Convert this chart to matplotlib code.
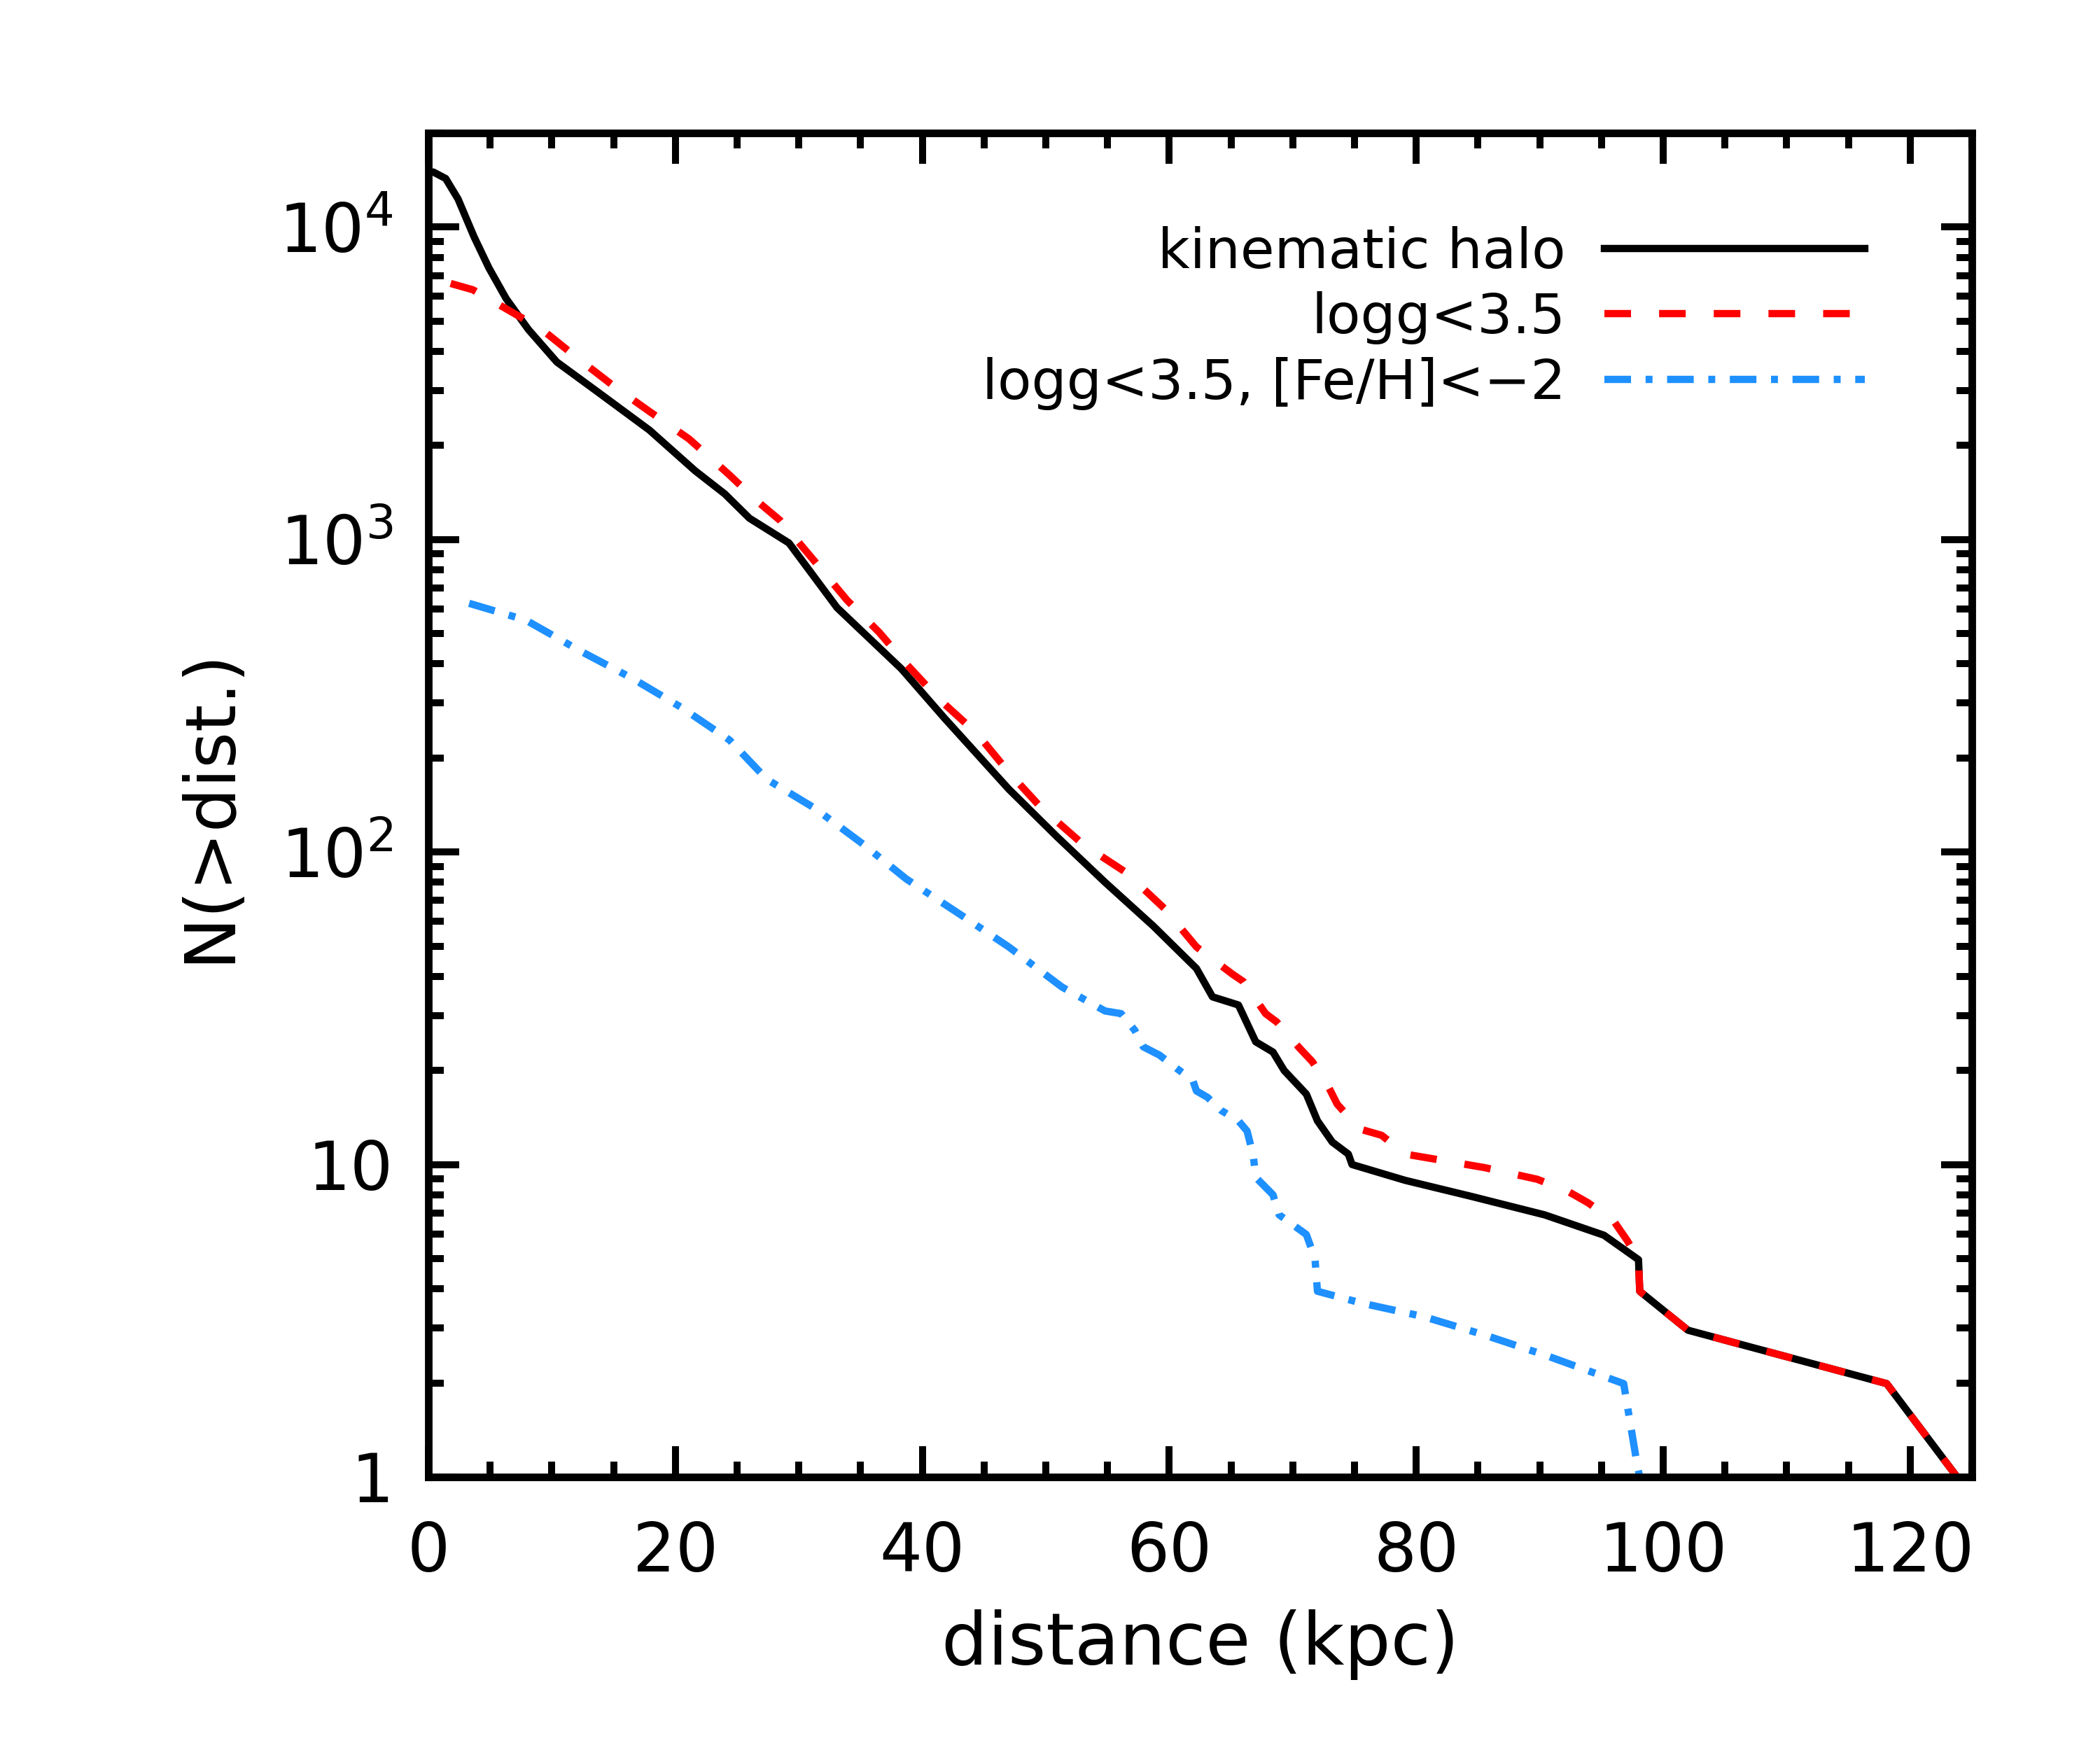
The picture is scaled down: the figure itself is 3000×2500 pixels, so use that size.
import matplotlib
matplotlib.use("Agg")
import matplotlib.pyplot as plt
from matplotlib.ticker import FixedLocator, FuncFormatter, MultipleLocator

plt.rcParams['mathtext.default'] = 'regular'

# cumulative counts N(>dist)
halo_d = [0.0, 0.4, 1.4, 2.4, 3.7, 4.9, 6.3, 8.1, 10.4, 13.8, 17.9, 21.6, 24.0,
          26.0, 29.2, 33.1, 38.3, 41.8, 47.0, 50.9, 54.8, 58.7, 62.2, 63.5, 65.6,
          67.0, 68.4, 69.3, 71.1, 72.0, 73.2, 74.5, 74.8, 79.1, 84.5, 90.4, 95.2,
          98.0, 98.1, 102.0, 118.1, 123.8]
halo_n = [15000, 15000, 14300, 12300, 9300, 7400, 5900, 4700, 3700, 2950, 2240,
          1660, 1400, 1170, 975, 605, 386, 268, 159, 112, 80, 58, 42.4, 34.4, 32.4,
          24.7, 22.9, 20.0, 16.8, 13.8, 11.8, 10.8, 10.0, 8.9, 7.9, 6.9, 5.94,
          4.96, 3.93, 2.95, 1.99, 1.0]

giant_d = [1.8, 3.6, 5.7, 9.2, 12.1, 15.0, 17.9, 21.1, 24.3, 26.6, 28.5, 31.3, 33.9,
           36.5, 38.7, 41.3, 44.4, 47.0, 49.6, 53.0, 56.5, 59.6, 62.2, 65.1, 66.0,
           67.8, 68.7, 70.5, 71.6, 72.9, 73.6, 75.4, 77.2, 79.1, 85.5, 89.8, 92.3,
           93.9, 96.0, 97.1, 98.0, 98.1, 102.0, 118.1, 123.8]
giant_n = [6600, 6300, 5650, 4700, 3800, 3100, 2570, 2100, 1620, 1330, 1150, 850,
           640, 505, 400, 310, 240, 180, 139, 106, 86, 66, 49.7, 40.7, 38.5, 30.4,
           28.6, 23.7, 21.3, 17.7, 15.6, 13.0, 12.4, 10.8, 9.78, 8.97, 8.2, 7.55,
           6.59, 5.7, 4.96, 3.93, 2.95, 1.99, 1.0]

mp_d = [3.3, 7.9, 12.3, 16.6, 20.5, 24.4, 27.4, 31.3, 35.2, 38.7, 43.1, 47.0, 51.3,
        54.8, 56.1, 57.2, 57.9, 59.2, 60.6, 61.9, 62.2, 63.1, 64.2, 65.6, 66.3,
        66.8, 67.0, 68.4, 68.9, 71.1, 71.8, 72.0, 75.6, 80.6, 85.5, 90.5, 96.8,
        97.9, 98.1]
mp_n = [625, 552, 440, 358, 290, 228, 171, 138, 106, 82, 63, 49.7, 37, 31, 30.4,
        26.9, 23.8, 22.4, 20.3, 18.6, 17.2, 16.4, 14.9, 13.8, 12.8, 10.7, 9.1, 8.0,
        6.9, 5.97, 5.0, 3.93, 3.6, 3.26, 2.85, 2.45, 1.99, 1.09, 1.0]

labels = ['kinematic halo', 'logg<3.5', 'logg<3.5, [Fe/H]<\u22122']

fig = plt.figure(figsize=(10, 25 / 3), dpi=300)
ax = fig.add_axes([0.204, 0.156, 0.735, 0.768])

ax.plot(halo_d, halo_n, color='black', lw=2.5, label=labels[0])
ax.plot(giant_d, giant_n, color='red', lw=2.5, dashes=(3.65, 3.85), label=labels[1])
ax.plot(mp_d, mp_n, color='#1e90ff', lw=2.5, dashes=(3.65, 2.0, 0.95, 2.0), label=labels[2])

ax.set_yscale('log')
ax.set_xlim(0, 125)
ax.set_ylim(1, 2e4)

ax.xaxis.set_major_locator(MultipleLocator(20))
ax.xaxis.set_minor_locator(MultipleLocator(5))
ax.yaxis.set_major_locator(FixedLocator([1, 10, 100, 1000, 10000]))
ax.yaxis.set_major_formatter(FuncFormatter(
    lambda v, p: {1: '1', 10: '10', 100: '$10^2$', 1000: '$10^3$', 10000: '$10^4$'}.get(int(round(v)), '')))

ax.tick_params(which='both', direction='in', top=True, right=True, width=2.4, labelsize=23)
ax.tick_params(which='major', length=10.5)
ax.tick_params(which='minor', length=5.3)
ax.tick_params(axis='x', pad=15)
ax.tick_params(axis='y', pad=12)
for s in ax.spines.values():
    s.set_linewidth(2.6)

ax.set_xlabel('distance (kpc)', fontsize=25, labelpad=8)
ax.set_ylabel('N(>dist.)', fontsize=24, labelpad=12)

leg = ax.legend(loc='upper right', bbox_to_anchor=(0.963, 0.968), frameon=False,
                markerfirst=False, fontsize=19, handlelength=4.7, labelspacing=0.22,
                handletextpad=0.7)
for t in leg.get_texts():
    t.set_ha('right')

fig.savefig('out.png', dpi=300)
